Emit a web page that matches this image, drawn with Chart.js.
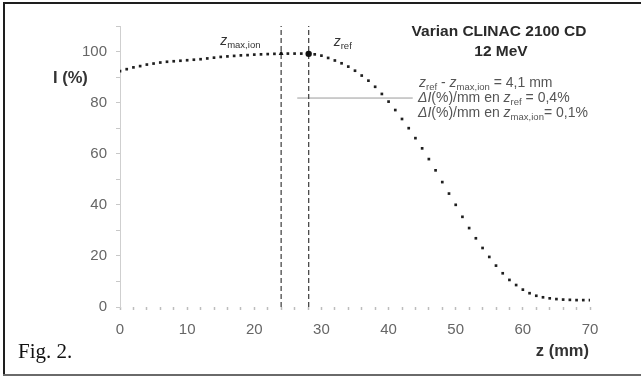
<!DOCTYPE html>
<html>
<head>
<meta charset="utf-8">
<script src="https://cdn.jsdelivr.net/npm/chart.js@4/dist/chart.umd.min.js"></script>
<style>
  html, body { margin: 0; padding: 0; background: #fff; }
  #c { display: block; }
</style>
</head>
<body>
<canvas id="c" width="641" height="377"></canvas>
<script>
// Depth-dose profile, Varian CLINAC 2100 CD, 12 MeV electrons
const depthMm = [
  0, 1, 2, 3, 4, 5, 6, 7, 8, 9,
  10, 11, 12, 13, 14, 15, 16, 17, 18, 19,
  20, 21, 22, 23, 24, 25, 26, 27, 28, 29,
  30, 31, 32, 33, 34, 35, 36, 37, 38, 39,
  40, 41, 42, 43, 44, 45, 46, 47, 48, 49,
  50, 51, 52, 53, 54, 55, 56, 57, 58, 59,
  60, 61, 62, 63, 64, 65, 66, 67, 68, 69, 70
];
const relIntensity = [
  92.3, 93.1, 93.8, 94.3, 94.9, 95.3, 95.7, 96.0, 96.2, 96.4,
  96.6, 96.8, 97.0, 97.3, 97.6, 97.9, 98.1, 98.3, 98.5, 98.6,
  98.8, 98.9, 99.0, 99.1, 99.2, 99.2, 99.2, 99.2, 99.1, 98.9,
  98.4, 97.5, 96.5, 95.4, 94.1, 92.5, 90.6, 88.6, 86.2, 83.4,
  80.4, 77.1, 73.6, 70.0, 66.1, 62.1, 57.9, 53.5, 48.9, 44.4,
  40.0, 35.3, 30.9, 26.9, 23.1, 19.6, 16.2, 13.2, 10.6, 8.6,
  6.8, 5.4, 4.4, 3.8, 3.4, 3.1, 2.9, 2.8, 2.7, 2.7, 2.7
];
const xTickLabels = [0, 10, 20, 30, 40, 50, 60, 70];
const yTickLabels = [0, 20, 40, 60, 80, 100];

// Reference depths (mm) and their intensities
const zMaxIon = 24.0;
const zRef = 28.1;
const markerIntensity = [99.2, 99.1];

// Horizontal reference segment
const refLevel = 81.8;
const refFrom = 26.4;
const refTo = 43.6;

const titleLines = ['Varian CLINAC 2100 CD', '12 MeV'];
const gradRef = 0.4;     // %/mm at z_ref
const gradMaxIon = 0.1;  // %/mm at z_max,ion

const fmt = v => v.toFixed(1).replace('.', ',');

const profilePts = depthMm.map((z, i) => ({ x: z, y: relIntensity[i] }));

const SANS = '"Liberation Sans", Arial, sans-serif';

// rich text: runs of {t, it, sub, b}
function drawRuns(ctx, runs, x, y, size, color) {
  ctx.save();
  ctx.fillStyle = color;
  ctx.textBaseline = 'middle';
  ctx.textAlign = 'left';
  let cx = x;
  for (const r of runs) {
    const s = r.sub ? size * 0.68 : size;
    ctx.font = (r.it ? 'italic ' : '') + (r.b ? 'bold ' : '') + s + 'px ' + SANS;
    const dy = r.sub ? size * 0.3 : 0;
    ctx.fillText(r.t, cx, y + dy);
    cx += ctx.measureText(r.t).width;
  }
  ctx.restore();
}

const decorations = {
  id: 'decorations',
  beforeDraw(chart) {
    const ctx = chart.ctx;
    ctx.save();
    ctx.fillStyle = '#fff';
    ctx.fillRect(0, 0, chart.width, chart.height);
    // frame
    ctx.fillStyle = '#1e1e1e';
    ctx.fillRect(3, 2, chart.width - 3, 2);
    ctx.fillRect(3, 2, 2, 374);
    ctx.fillStyle = '#6a6a6a';
    ctx.fillRect(3, 374, chart.width - 3, 2);
    ctx.restore();
  },
  afterDraw(chart) {
    const ctx = chart.ctx;
    const xs = chart.scales.x;

    // title
    ctx.save();
    ctx.fillStyle = '#2a2a2a';
    ctx.textAlign = 'center';
    ctx.textBaseline = 'middle';
    ctx.font = 'bold 15.5px ' + SANS;
    ctx.fillText(titleLines[0], 499, 32);
    ctx.fillText(titleLines[1], 501, 52);
    ctx.restore();

    // annotations
    const g = '#555';
    const fs = 14;
    drawRuns(ctx, [
      { t: 'z', it: true }, { t: 'ref', sub: true }, { t: ' - ' },
      { t: 'z', it: true }, { t: 'max,ion', sub: true },
      { t: ' = ' + fmt(zRef - zMaxIon) + ' mm' }
    ], 419, 83, fs, g);
    drawRuns(ctx, [
      { t: 'ΔI', it: true }, { t: '(%)/mm en ' },
      { t: 'z', it: true }, { t: 'ref', sub: true },
      { t: ' = ' + fmt(gradRef) + '%' }
    ], 418, 98, fs, g);
    drawRuns(ctx, [
      { t: 'ΔI', it: true }, { t: '(%)/mm en ' },
      { t: 'z', it: true }, { t: 'max,ion', sub: true },
      { t: '= ' + fmt(gradMaxIon) + '%' }
    ], 418, 113, fs, g);

    // labels of the reference depths
    drawRuns(ctx, [{ t: 'z', it: true }, { t: 'max,ion', sub: true }],
      xs.getPixelForValue(zMaxIon) - 61, 41, 14, '#333');
    drawRuns(ctx, [{ t: 'z', it: true }, { t: 'ref', sub: true }],
      xs.getPixelForValue(zRef) + 25, 42, 14, '#333');

    // axis titles
    ctx.save();
    ctx.fillStyle = '#333';
    ctx.textBaseline = 'middle';
    ctx.textAlign = 'left';
    ctx.font = 'bold 16.5px ' + SANS;
    ctx.fillText('I (%)', 53, 78);
    ctx.textAlign = 'right';
    ctx.fillText('z (mm)', 589, 351);
    // figure caption
    ctx.fillStyle = '#111';
    ctx.textAlign = 'left';
    ctx.textBaseline = 'alphabetic';
    ctx.font = '21px "Liberation Serif", "Times New Roman", serif';
    ctx.fillText('Fig. 2.', 18, 358);
    ctx.restore();
  }
};

new Chart(document.getElementById('c'), {
  type: 'scatter',
  data: {
    datasets: [
      {
        label: 'profile',
        data: profilePts,
        showLine: false,
        pointStyle: 'rect',
        pointRadius: 1.9,
        pointBackgroundColor: '#1f1f1f',
        pointBorderWidth: 0,
        order: 1
      },
      {
        label: 'z max,ion',
        data: [{ x: zMaxIon, y: 0 }, { x: zMaxIon, y: 110 }],
        showLine: true,
        borderColor: '#4a4a4a',
        borderWidth: 1.3,
        borderDash: [5, 3],
        pointRadius: 0,
        order: 3
      },
      {
        label: 'z ref',
        data: [{ x: zRef, y: 0 }, { x: zRef, y: 110 }],
        showLine: true,
        borderColor: '#4a4a4a',
        borderWidth: 1.3,
        borderDash: [5, 3],
        pointRadius: 0,
        order: 3
      },
      {
        label: 'reference level',
        data: [{ x: refFrom, y: refLevel }, { x: refTo, y: refLevel }],
        showLine: true,
        borderColor: '#9a9a9a',
        borderWidth: 1,
        pointRadius: 0,
        order: 4
      },
      {
        label: 'markers',
        data: [{ x: zMaxIon, y: markerIntensity[0] }, { x: zRef, y: markerIntensity[1] }],
        showLine: false,
        pointStyle: ['triangle', 'circle'],
        pointRadius: [2.8, 3.2],
        pointBackgroundColor: '#111',
        pointBorderWidth: 0,
        order: 0
      }
    ]
  },
  options: {
    responsive: false,
    animation: false,
    layout: { padding: { left: 0, right: 51, top: 26, bottom: 0 } },
    plugins: {
      legend: { display: false },
      tooltip: { enabled: false }
    },
    scales: {
      x: {
        type: 'linear',
        min: 0,
        max: 70,
        afterFit(scale) { scale.height = 70; },
        afterBuildTicks(scale) {
          const t = [];
          for (let v = 0; v <= 70; v += 2) t.push({ value: v });
          scale.ticks = t;
        },
        ticks: {
          autoSkip: false,
          maxRotation: 0,
          padding: 11,
          color: '#666',
          font: { family: SANS, size: 15 },
          callback: v => xTickLabels.includes(v) ? String(v) : ''
        },
        grid: {
          drawOnChartArea: false,
          drawTicks: true,
          tickLength: 3,
          tickWidth: 1.5,
          tickColor: '#bdbdbd'
        },
        border: { display: false }
      },
      y: {
        min: 0,
        max: 110,
        afterFit(scale) { scale.width = 120; },
        ticks: {
          stepSize: 10,
          autoSkip: false,
          padding: 9,
          color: '#666',
          font: { family: SANS, size: 15 },
          callback: v => yTickLabels.includes(v) ? String(v) : ''
        },
        grid: {
          drawOnChartArea: false,
          drawTicks: true,
          tickLength: 4,
          tickColor: '#c8c8c8'
        },
        border: { display: true, color: '#cfcfcf', width: 1 }
      }
    }
  },
  plugins: [decorations]
});
</script>
</body>
</html>
